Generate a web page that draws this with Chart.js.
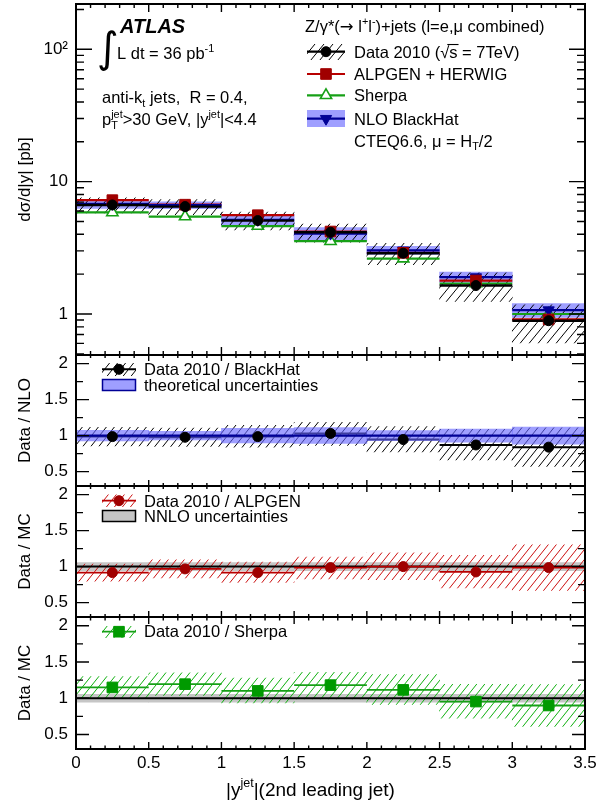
<!DOCTYPE html>
<html>
<head>
<meta charset="utf-8">
<script src="https://cdn.jsdelivr.net/npm/chart.js@4.4.1/dist/chart.umd.min.js"></script>
<style>
html,body{margin:0;padding:0;background:#ffffff;}
#wrap{position:relative;width:611px;height:804px;overflow:hidden;background:#fff;}
#wrap canvas{position:absolute;left:0;top:0;}
</style>
</head>
<body>
<div id="wrap">
<canvas id="p1" width="611" height="804"></canvas>
<canvas id="p2" width="611" height="804"></canvas>
<canvas id="p3" width="611" height="804"></canvas>
<canvas id="p4" width="611" height="804"></canvas>
</div>
<script>
// ---------------- data ----------------
const binEdges    = [0, 0.5, 1, 1.5, 2, 2.5, 3, 3.5];
const binCenters  = [0.25, 0.75, 1.25, 1.75, 2.25, 2.75, 3.25];
const dataXsec    = [6.67, 6.48, 5.08, 4.15, 2.88, 1.64, 0.89];
const dataErrUp   = [0.13, 0.13, 0.16, 0.15, 0.19, 0.25, 0.32];
const dataErrDn   = [0.13, 0.13, 0.15, 0.16, 0.18, 0.24, 0.32];
const alpgenXsec  = [7.25, 6.70, 5.58, 4.20, 2.90, 1.79, 0.91];
const sherpaXsec  = [5.85, 5.45, 4.62, 3.55, 2.62, 1.70, 1.00];
const nloXsec     = [6.80, 6.65, 5.15, 4.05, 3.03, 1.90, 1.07];
const nloErr      = [0.075, 0.06, 0.10, 0.11, 0.07, 0.09, 0.12];
const ratioNLO    = [0.986, 0.977, 0.986, 1.03, 0.945, 0.87, 0.84];
const ratioALPGEN = [0.917, 0.968, 0.917, 0.986, 1.00, 0.926, 0.986];
const ratioSherpa = [1.149, 1.194, 1.101, 1.181, 1.115, 0.954, 0.90];
const nnloErr     = [0.055, 0.055, 0.055, 0.055, 0.055, 0.055, 0.055];
const unityRatio  = [1, 1, 1, 1, 1, 1, 1];

// ---------------- ticks ----------------
const xMajorTicks = [0, 0.5, 1, 1.5, 2, 2.5, 3, 3.5];
const xTickLabels = ['0', '0.5', '1', '1.5', '2', '2.5', '3', '3.5'];
const xMinorTicks = [0.1,0.2,0.3,0.4,0.6,0.7,0.8,0.9,1.1,1.2,1.3,1.4,1.6,1.7,1.8,1.9,
                     2.1,2.2,2.3,2.4,2.6,2.7,2.8,2.9,3.1,3.2,3.3,3.4];
const logMajorTicks = [1, 10, 100];
const logTickLabels = ['1', '10', '10²'];
const logMinorTicks = [0.5,0.6,0.7,0.8,0.9,2,3,4,5,6,7,8,9,20,30,40,50,60,70,80,90,200];
const ratioMajorTicks = [0.5, 1, 1.5, 2];
const ratioTickLabels = ['0.5', '1', '1.5', '2'];
const ratioMinorTicks = [0.75, 1.25, 1.75];

// ---------------- style ----------------
const FONT = '"Liberation Sans", Arial, Helvetica, sans-serif';
const W = 611, H = 804, LEFT = 76, RIGHT = 585;
const C_RED = '#a00000', C_REDLINE = '#b80000', C_REDHATCH = '#cc1111';
const C_GREEN = '#009a00', C_GREENLINE = '#16a016', C_GREENHATCH = '#10b010';
const C_BLUE = '#000096', C_BAND = 'rgba(100,100,255,0.62)', C_GREY = '#c6c6c6';

function hatchPattern(color, w, h, lw) {
  const t = document.createElement('canvas'); t.width = w; t.height = h;
  const g = t.getContext('2d');
  g.strokeStyle = color; g.lineWidth = lw;
  g.beginPath();
  for (const dx of [-w, 0, w]) { g.moveTo(dx, h); g.lineTo(dx + w, 0); }
  g.stroke();
  return g.createPattern(t, 'repeat');
}
const hatchBlackTop = hatchPattern('#000', 9, 11, 1);
const hatchBlack = hatchPattern('#000', 8, 10, 1);
const hatchRed = hatchPattern(C_REDHATCH, 8, 10, 1);
const hatchGreen = hatchPattern(C_GREENHATCH, 8, 10, 1);

// ---------------- dataset helpers ----------------
function bandData(vals, lo, hi) {
  return binCenters.map((c, i) => ({x: c, y: [vals[i] * (1 - lo[i]), vals[i] * (1 + hi[i])]}));
}
function stepData(vals) {
  const pts = [];
  vals.forEach((v, i) => {
    pts.push({x: binEdges[i], y: v}, {x: binEdges[i + 1], y: v});
    if (i < vals.length - 1) pts.push({x: binEdges[i + 1], y: null});
  });
  return pts;
}
function pointData(vals) { return binCenters.map((c, i) => ({x: c, y: vals[i]})); }
function unityLine() { return [{x: binEdges[0], y: 1}, {x: binEdges[binEdges.length - 1], y: 1}]; }

function barDS(data, bg, order) {
  return {type: 'bar', data, backgroundColor: bg, borderWidth: 0, grouped: false,
          barPercentage: 1, categoryPercentage: 1, order};
}
function lineDS(data, color, width, order) {
  return {type: 'line', data, borderColor: color, borderWidth: width, pointRadius: 0,
          pointHoverRadius: 0, fill: false, tension: 0, spanGaps: false, order};
}
function markDS(data, style, r, fill, stroke, bw, order, rot) {
  return {type: 'line', data, showLine: false, pointStyle: style, pointRadius: r, pointHoverRadius: r,
          pointBackgroundColor: fill, pointBorderColor: stroke, pointBorderWidth: bw,
          pointRotation: rot || 0, order};
}

// ---------------- text helpers ----------------
function rich(ctx, x, y, segs, size, color) {
  ctx.save();
  ctx.fillStyle = color || '#000';
  ctx.textAlign = 'left'; ctx.textBaseline = 'alphabetic';
  let cx = x, pendingW = null;
  for (let s of segs) {
    if (typeof s === 'string') s = {t: s};
    let fs = size, dy = 0;
    if (s.sup) { fs = size * 0.66; dy = -size * 0.45; }
    if (s.sub) { fs = size * 0.66; dy = size * 0.24; }
    ctx.font = (s.style ? s.style + ' ' : '') + fs + 'px ' + (s.family || FONT);
    ctx.fillText(s.t, cx, y + dy);
    const w = ctx.measureText(s.t).width;
    if (s.over) ctx.fillRect(cx - 2, y - size * 0.82, w + 3, 1.1);
    if (s.stack) { pendingW = w; continue; }
    cx += (pendingW != null) ? Math.max(w, pendingW) : w;
    pendingW = null;
  }
  ctx.restore();
  return cx;
}
function pt(ctx, style, r, x, y, fill, stroke, bw, rot) {
  ctx.save();
  ctx.fillStyle = fill; ctx.strokeStyle = stroke; ctx.lineWidth = bw;
  Chart.helpers.drawPoint(ctx, {pointStyle: style, radius: r, rotation: rot || 0, borderWidth: bw}, x, y);
  ctx.restore();
}
function hline(ctx, x0, x1, y, color, w) {
  ctx.save(); ctx.strokeStyle = color; ctx.lineWidth = w;
  ctx.beginPath(); ctx.moveTo(x0, y); ctx.lineTo(x1, y); ctx.stroke(); ctx.restore();
}
function box(ctx, x0, y0, x1, y1, fill, stroke, bw) {
  ctx.save(); ctx.fillStyle = fill; ctx.fillRect(x0, y0, x1 - x0, y1 - y0);
  if (stroke) { ctx.strokeStyle = stroke; ctx.lineWidth = bw; ctx.strokeRect(x0, y0, x1 - x0, y1 - y0); }
  ctx.restore();
}

// ---------------- frame + inward ticks ----------------
function frameTicksPlugin(p) {
  return {
    id: 'frameTicks',
    afterDraw(chart) {
      const ctx = chart.ctx, a = chart.chartArea, xs = chart.scales.x, ys = chart.scales.y;
      ctx.save();
      ctx.strokeStyle = '#000'; ctx.lineWidth = 1.4;
      ctx.beginPath();
      const vx = (vals, len) => vals.forEach(v => {
        const px = xs.getPixelForValue(v);
        ctx.moveTo(px, a.bottom); ctx.lineTo(px, a.bottom - len);
        ctx.moveTo(px, a.top); ctx.lineTo(px, a.top + len);
      });
      const vy = (vals, len) => vals.forEach(v => {
        const py = ys.getPixelForValue(v);
        ctx.moveTo(a.left, py); ctx.lineTo(a.left + len, py);
        ctx.moveTo(a.right, py); ctx.lineTo(a.right - len, py);
      });
      vx(xMajorTicks, p.xMajLen); vx(xMinorTicks, p.xMinLen);
      vy(p.yMajor, p.yMajLen); vy(p.yMinor, p.yMinLen);
      ctx.stroke();
      ctx.lineWidth = 2;
      ctx.strokeRect(a.left, a.top, a.right - a.left, a.bottom - a.top);
      ctx.restore();
    }
  };
}

// ---------------- panel factory ----------------
function makePanel(id, p) {
  const xh = p.bottomAxis ? (H - p.bottom) : 0;
  return new Chart(document.getElementById(id).getContext('2d'), {
    type: 'bar',
    data: {datasets: p.datasets},
    options: {
      responsive: false, animation: false, events: [],
      layout: {padding: {left: 0, right: W - RIGHT, top: p.top, bottom: H - p.bottom - xh}, autoPadding: false},
      plugins: {legend: {display: false}, tooltip: {enabled: false}},
      scales: {
        x: {
          type: 'linear', min: 0, max: 3.5, offset: false,
          grid: {display: false, drawTicks: false}, border: {display: false},
          ticks: {display: !!p.bottomAxis, color: '#000', padding: 4, maxRotation: 0, autoSkip: false,
                  font: {family: FONT, size: 17},
                  callback: (v) => { const i = xMajorTicks.indexOf(v); return i >= 0 ? xTickLabels[i] : ''; }},
          afterBuildTicks: (s) => { s.ticks = xMajorTicks.map(v => ({value: v})); },
          afterFit: (s) => { s.height = xh; s.paddingLeft = 0; s.paddingRight = 0; s.paddingTop = 0; s.paddingBottom = 0; }
        },
        y: {
          type: p.log ? 'logarithmic' : 'linear', min: p.axisMin, max: p.axisMax,
          grid: {display: false, drawTicks: false}, border: {display: false},
          ticks: {color: '#000', padding: 8, autoSkip: false, font: {family: FONT, size: 17},
                  callback: (v) => { const i = p.yMajor.indexOf(v); return i >= 0 ? p.yLabels[i] : ''; }},
          afterBuildTicks: (s) => { s.ticks = p.yMajor.map(v => ({value: v})); },
          title: {display: true, text: p.yTitle, color: '#000', font: {family: FONT, size: 17},
                  padding: {top: 15, bottom: 0}},
          afterFit: (s) => { s.width = LEFT; s.paddingTop = 0; s.paddingBottom = 0; s.paddingLeft = 0; s.paddingRight = 0; }
        }
      }
    },
    plugins: [frameTicksPlugin(p), {id: 'annot', afterDraw(chart) { if (p.annot) p.annot(chart.ctx, chart); }}]
  });
}

// ---------------- panel 1 : cross section ----------------
makePanel('p1', {
  top: 4, bottom: 355, log: true, axisMin: 0.49, axisMax: 220,
  yMajor: logMajorTicks, yLabels: logTickLabels, yMinor: logMinorTicks,
  yMajLen: 16, yMinLen: 8, xMajLen: 8, xMinLen: 4,
  yTitle: 'dσ/d|y| [pb]',
  datasets: [
    barDS(bandData(nloXsec, nloErr, nloErr), C_BAND, 20),
    barDS(bandData(dataXsec, dataErrDn, dataErrUp), hatchBlackTop, 19),
    lineDS(stepData(sherpaXsec), C_GREENLINE, 2.2, 18),
    lineDS(stepData(alpgenXsec), C_REDLINE, 2.2, 17),
    lineDS(stepData(nloXsec), C_BLUE, 2.2, 16),
    lineDS(stepData(dataXsec), '#000', 2.4, 15),
    markDS(pointData(sherpaXsec), 'triangle', 6.5, '#fff', C_GREENLINE, 1.6, 4),
    markDS(pointData(nloXsec), 'triangle', 6.5, C_BLUE, C_BLUE, 1, 3, 180),
    markDS(pointData(alpgenXsec), 'rect', 7.5, C_RED, C_RED, 1, 2),
    markDS(pointData(dataXsec), 'circle', 5, '#000', '#000', 1, 1)
  ],
  annot(ctx) {
    ctx.save();
    ctx.fillStyle = '#000'; ctx.textBaseline = 'alphabetic'; ctx.textAlign = 'left';
    ctx.font = 'italic bold 20px ' + FONT; ctx.fillText('ATLAS', 120, 33);
    ctx.font = '42px "DejaVu Sans"'; ctx.fillText('∫', 97, 62);
    ctx.restore();
    rich(ctx, 117, 59, ['L dt = 36 pb', {t: '-1', sup: true}], 16.5);
    rich(ctx, 102, 103, ['anti-k', {t: 't', sub: true}, ' jets,  R = 0.4,'], 16.5);
    rich(ctx, 102, 125, ['p', {t: 'T', sub: true, stack: true}, {t: 'jet', sup: true}, '>30 GeV, |y',
                         {t: 'jet', sup: true}, '|<4.4'], 16.5);
    // legend
    rich(ctx, 305, 32, ['Z/γ*(', {t: '→', family: '"DejaVu Sans"'}, ' l', {t: '+', sup: true}, 'l', {t: '-', sup: true},
                        ')+jets (l=e,μ combined)'], 16.5);
    const sx0 = 307, sx1 = 345, sc = 326;
    box(ctx, sx0, 44, sx1, 60, hatchBlackTop);
    hline(ctx, sx0, sx1, 51.7, '#000', 2.2);
    pt(ctx, 'circle', 5, sc, 51.7, '#000', '#000', 1);
    rich(ctx, 354, 57.5, ['Data 2010 (√', {t: 's', over: true}, ' = 7TeV)'], 16.5);
    hline(ctx, sx0, sx1, 74, C_REDLINE, 2.2);
    pt(ctx, 'rect', 7.5, sc, 74, C_RED, C_RED, 1);
    rich(ctx, 354, 80, ['ALPGEN + HERWIG'], 16.5);
    hline(ctx, sx0, sx1, 95.3, C_GREENLINE, 2.2);
    pt(ctx, 'triangle', 6.5, sc, 95.3, '#fff', C_GREENLINE, 1.6);
    rich(ctx, 354, 101, ['Sherpa'], 16.5);
    box(ctx, sx0, 110, sx1, 127, C_BAND);
    hline(ctx, sx0, sx1, 118.7, C_BLUE, 2.2);
    pt(ctx, 'triangle', 6.5, sc, 118.7, C_BLUE, C_BLUE, 1, 180);
    rich(ctx, 354, 124.5, ['NLO BlackHat'], 16.5);
    rich(ctx, 354, 146.5, ['CTEQ6.6, μ = H', {t: 'T', sub: true}, '/2'], 16.5);
  }
});

// ---------------- panel 2 : data / NLO ----------------
makePanel('p2', {
  top: 355, bottom: 486, log: false, axisMin: 0.3, axisMax: 2.12,
  yMajor: ratioMajorTicks, yLabels: ratioTickLabels, yMinor: ratioMinorTicks,
  yMajLen: 13, yMinLen: 7, xMajLen: 6, xMinLen: 3,
  yTitle: 'Data / NLO',
  datasets: [
    barDS(bandData(ratioNLO, dataErrDn, dataErrUp), hatchBlack, 20),
    lineDS(stepData(ratioNLO), '#000', 2, 19),
    barDS(bandData(unityRatio, nloErr, nloErr), C_BAND, 18),
    lineDS(unityLine(), C_BLUE, 2.2, 17),
    markDS(pointData(ratioNLO), 'circle', 5, '#000', '#000', 1, 1)
  ],
  annot(ctx) {
    box(ctx, 102, 363, 136, 376, hatchBlack);
    hline(ctx, 102, 136, 369.3, '#000', 2);
    pt(ctx, 'circle', 5, 119, 369.3, '#000', '#000', 1);
    rich(ctx, 144, 375, ['Data 2010 / BlackHat'], 16.5);
    box(ctx, 102.5, 379.5, 135.5, 390.5, C_BAND, C_BLUE, 1.5);
    rich(ctx, 144, 390.5, ['theoretical uncertainties'], 16.5);
  }
});

// ---------------- panel 3 : data / ALPGEN ----------------
makePanel('p3', {
  top: 486, bottom: 617, log: false, axisMin: 0.3, axisMax: 2.12,
  yMajor: ratioMajorTicks, yLabels: ratioTickLabels, yMinor: ratioMinorTicks,
  yMajLen: 13, yMinLen: 7, xMajLen: 6, xMinLen: 3,
  yTitle: 'Data / MC',
  datasets: [
    barDS(bandData(unityRatio, nnloErr, nnloErr), C_GREY, 20),
    barDS(bandData(ratioALPGEN, dataErrDn, dataErrUp), hatchRed, 19),
    lineDS(unityLine(), '#000', 2, 18),
    lineDS(stepData(ratioALPGEN), C_REDLINE, 1.8, 17),
    markDS(pointData(ratioALPGEN), 'circle', 5, C_RED, C_RED, 1, 1)
  ],
  annot(ctx) {
    box(ctx, 102, 494.5, 136, 507, hatchRed);
    hline(ctx, 102, 136, 500.7, C_REDLINE, 1.8);
    pt(ctx, 'circle', 5, 119, 500.7, C_RED, C_RED, 1);
    rich(ctx, 144, 506.5, ['Data 2010 / ALPGEN'], 16.5);
    box(ctx, 102.5, 510.5, 135.5, 521.5, C_GREY, '#000', 1.5);
    rich(ctx, 144, 521.5, ['NNLO uncertainties'], 16.5);
  }
});

// ---------------- panel 4 : data / Sherpa ----------------
makePanel('p4', {
  top: 617, bottom: 749, log: false, axisMin: 0.3, axisMax: 2.12, bottomAxis: true,
  yMajor: ratioMajorTicks, yLabels: ratioTickLabels, yMinor: ratioMinorTicks,
  yMajLen: 13, yMinLen: 7, xMajLen: 7, xMinLen: 3.5,
  yTitle: 'Data / MC',
  datasets: [
    barDS(bandData(unityRatio, nnloErr, nnloErr), C_GREY, 20),
    barDS(bandData(ratioSherpa, dataErrDn, dataErrUp), hatchGreen, 19),
    lineDS(unityLine(), '#000', 2, 18),
    lineDS(stepData(ratioSherpa), C_GREENLINE, 1.8, 17),
    markDS(pointData(ratioSherpa), 'rect', 7.5, C_GREEN, C_GREEN, 1, 1)
  ],
  annot(ctx) {
    box(ctx, 102, 626, 136, 638, hatchGreen);
    hline(ctx, 102, 136, 631.7, C_GREENLINE, 1.8);
    pt(ctx, 'rect', 7.5, 119, 631.7, C_GREEN, C_GREEN, 1);
    rich(ctx, 144, 637, ['Data 2010 / Sherpa'], 16.5);
    // x axis title
    rich(ctx, 226, 796, ['|y', {t: 'jet', sup: true}, '|(2nd leading jet)'], 19);
  }
});
</script>
</body>
</html>
